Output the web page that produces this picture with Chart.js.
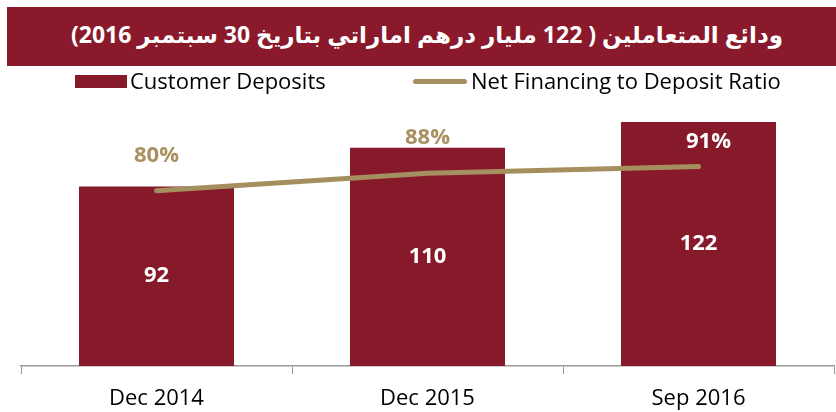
<!DOCTYPE html>
<html>
<head>
<meta charset="utf-8">
<script src="https://cdn.jsdelivr.net/npm/chart.js@4"></script>
<style>
  body { margin: 0; background: #fff; }
  #wrap { position: relative; width: 836px; height: 412px; overflow: hidden; }
  #chart { position: absolute; left: 0; top: 0; }
  #banner {
    position: absolute; left: 7px; top: 7px; width: 829px; height: 59px;
    background: #8A1A2B; color: #fff; box-sizing: border-box; padding-right: 53px;
    font: bold 23px "Open Sans", "DejaVu Sans", sans-serif; line-height: 54px;
    text-align: right; direction: rtl; white-space: nowrap;
  }
  .lg { position: absolute; font: 22px "Open Sans", sans-serif; color: #000; line-height: 30px; top: 65px; }
  .box { position: absolute; }
</style>
</head>
<body>
<div id="wrap">
  <canvas id="chart" width="836" height="412"></canvas>
  <div id="banner">ودائع المتعاملين ( 122 مليار درهم اماراتي بتاريخ 30 سبتمبر 2016)</div>
  <div class="box" style="left:75px;top:75px;width:52px;height:13px;background:#861A2A"></div>
  <div class="lg" style="left:130px">Customer Deposits</div>
  <div class="box" style="left:413px;top:79px;width:54px;height:5px;border-radius:3px;background:#A68F5F"></div>
  <div class="lg" style="left:471px">Net Financing to Deposit Ratio</div>
</div>
<script>
document.addEventListener('DOMContentLoaded', () => {

    // --- Data ---
    const periods = ['Dec 2014', 'Dec 2015', 'Sep 2016'];
    const customerDeposits = [92, 110, 122];      // AED billion
    const financingRatio = [80, 88, 91];          // percent

    const barColor = '#861A2A';
    const lineColor = '#A68F5F';

    // draws the numbers on bars and above the line points
    const valueLabels = {
        id: 'valueLabels',
        afterDatasetsDraw(chart, args, opts) {
            const ctx = chart.ctx;
            const bottom = chart.chartArea.bottom;
            ctx.save();
            ctx.textAlign = 'center';
            ctx.textBaseline = 'middle';
            ctx.font = 'bold 22px "Open Sans", sans-serif';

            const bars = chart.getDatasetMeta(0);
            ctx.fillStyle = '#fff';
            bars.data.forEach((el, i) => {
                const base = Math.min(el.base, bottom);
                ctx.fillText(customerDeposits[i], el.x, (el.y + base) / 2);
            });

            const pts = chart.getDatasetMeta(1);
            pts.data.forEach((el, i) => {
                const off = opts.lineOffsets[i];
                ctx.fillStyle = opts.lineColors[i];
                ctx.fillText(financingRatio[i] + '%', el.x + off[0], el.y + off[1]);
            });
            ctx.restore();
        }
    };

    new Chart(document.getElementById('chart'), {
        type: 'bar',
        data: {
            labels: periods,
            datasets: [{
                type: 'bar',
                label: 'Customer Deposits',
                data: customerDeposits,
                backgroundColor: barColor,
                barPercentage: 0.572,
                categoryPercentage: 1,
                yAxisID: 'y',
                order: 2
            }, {
                type: 'line',
                label: 'Net Financing to Deposit Ratio',
                data: financingRatio,
                borderColor: lineColor,
                borderWidth: 5,
                borderCapStyle: 'round',
                pointRadius: 0,
                tension: 0,
                yAxisID: 'y1',
                order: 1
            }]
        },
        options: {
            responsive: false,
            animation: false,
            layout: { padding: { top: 100, left: 21, right: 2, bottom: 2 } },
            plugins: {
                legend: { display: false },
                tooltip: { enabled: false },
                valueLabels: {
                    lineOffsets: [[0, -35], [0, -35], [10, -25]],
                    lineColors: ['#A89060', '#A89060', '#ffffff']
                }
            },
            scales: {
                x: {
                    afterFit: (scale) => { scale.height = 44; },
                    grid: { offset: true, drawOnChartArea: false, drawTicks: true, tickLength: 8, color: '#999' },
                    border: { color: '#999', width: 1.5 },
                    ticks: { color: '#000', padding: 12, font: { family: 'Open Sans', size: 22 } }
                },
                y: { display: false, min: 8.45, max: 132.2 },
                y1: { display: false, position: 'right', min: 0, max: 121.4 }
            }
        },
        plugins: [valueLabels]
    });
});
</script>
</body>
</html>
